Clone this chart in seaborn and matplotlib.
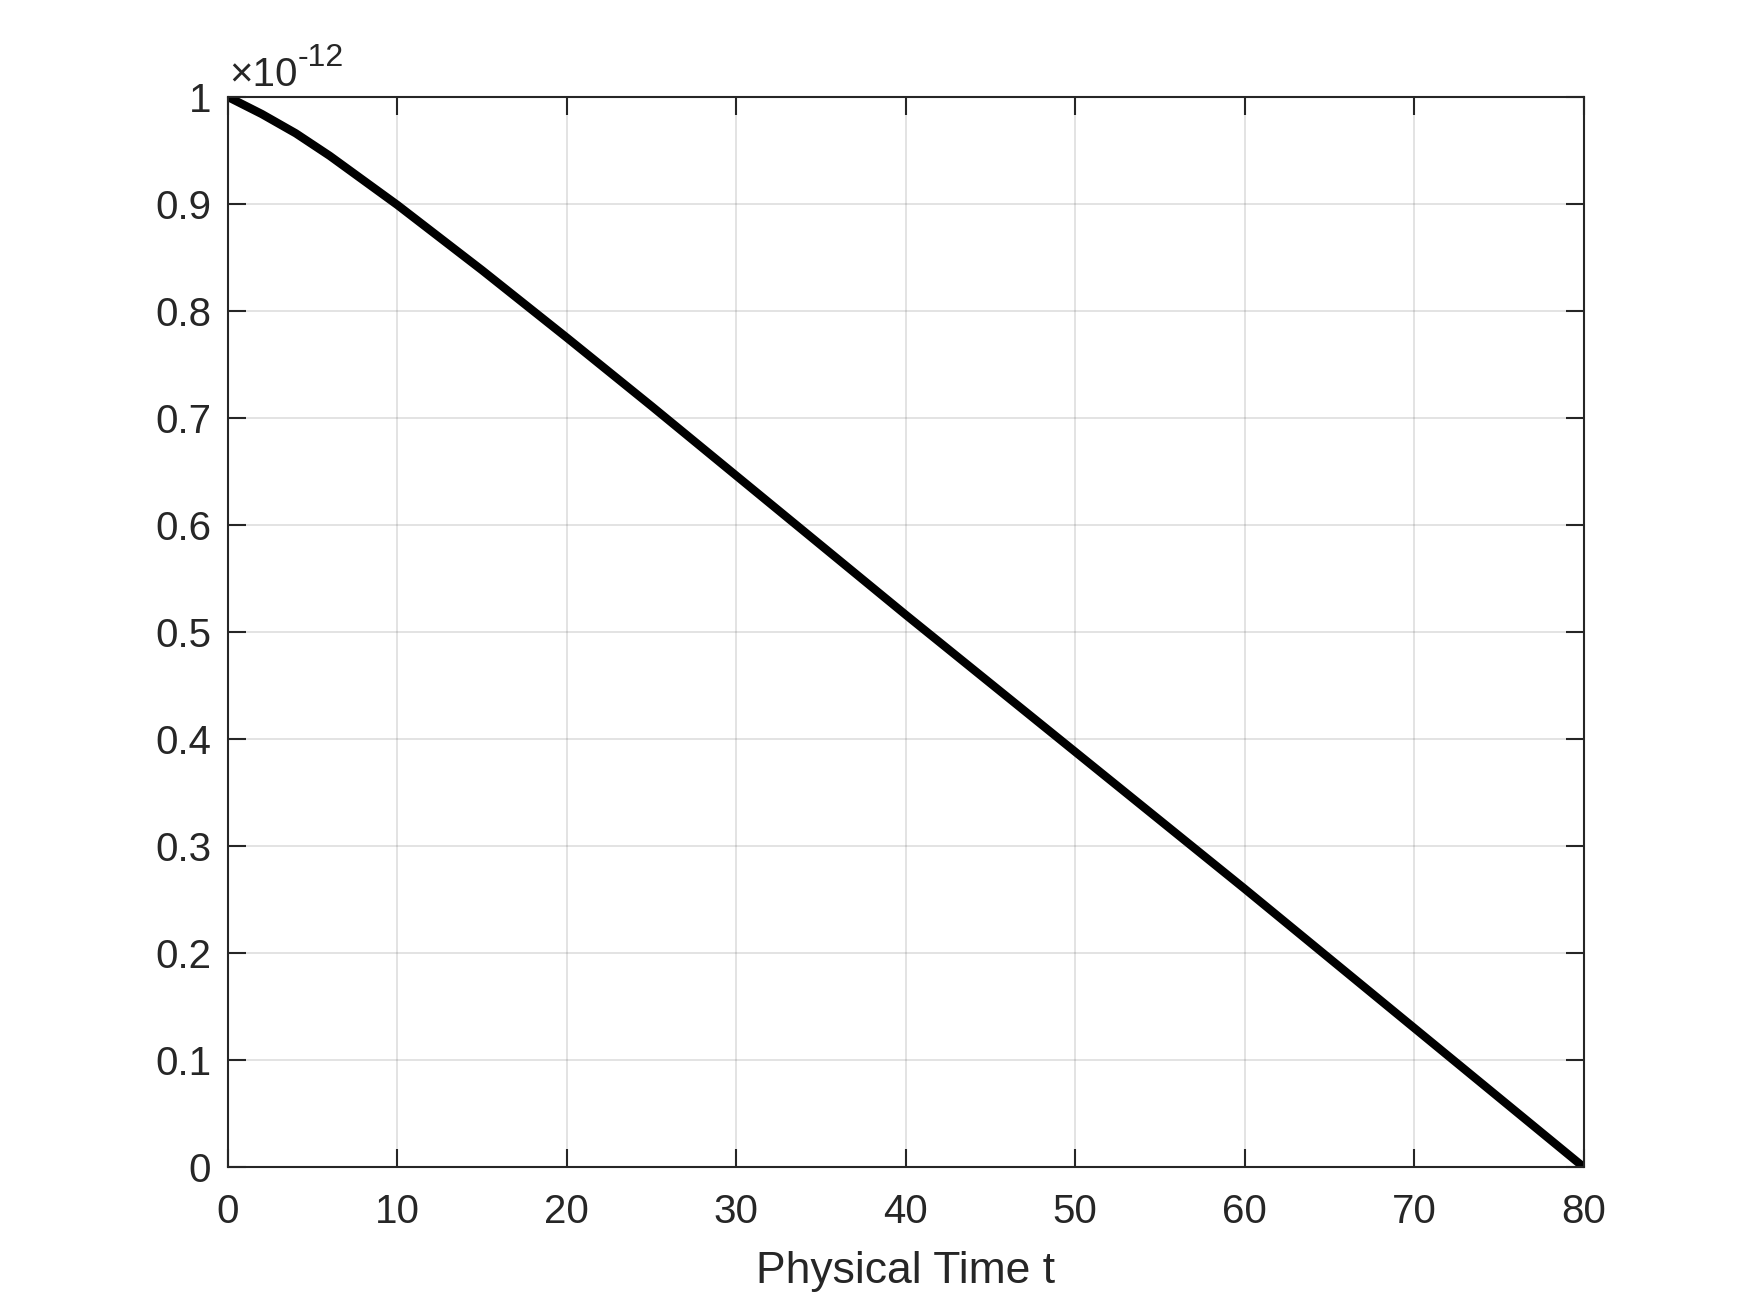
import numpy as np
import pandas as pd
import matplotlib
matplotlib.use("Agg")
import matplotlib.pyplot as plt
import seaborn as sns

# values (y in units of 1e-12)
zeit = [0, 2, 4, 6, 8, 10, 15, 20, 25, 30, 35, 40, 45, 50, 55, 60, 65, 70, 75, 80]
wert = [1.0, 0.984, 0.966, 0.945, 0.922, 0.899, 0.838, 0.775, 0.711, 0.646,
        0.581, 0.516, 0.452, 0.388, 0.324, 0.260, 0.195, 0.130, 0.065, 0.0]
xticks = [0, 10, 20, 30, 40, 50, 60, 70, 80]
yticks = [0, 0.1, 0.2, 0.3, 0.4, 0.5, 0.6, 0.7, 0.8, 0.9, 1]

df = pd.DataFrame({"t": zeit, "y": wert})

sns.set_theme(style="white")
plt.rcParams['font.family'] = ['Liberation Sans', 'DejaVu Sans']
textcol = "#262626"

fig = plt.figure(figsize=(17.5, 12.98), dpi=100)
ax = fig.add_axes([0.1303, 0.1009, 0.7746, 0.8244])

sns.lineplot(data=df, x="t", y="y", ax=ax, color="black", linewidth=6)

ax.set_xlim(0, 80)
ax.set_ylim(0, 1)
ax.set_xticks(xticks)
ax.set_yticks(yticks)
ax.set_yticklabels(["0", "0.1", "0.2", "0.3", "0.4", "0.5", "0.6", "0.7", "0.8", "0.9", "1"])
ax.grid(True, color="#262626", alpha=0.15, linewidth=1.2)
ax.tick_params(direction="in", length=13, width=1.5, top=True, right=True,
               bottom=True, left=True, labelsize=29, colors=textcol)
ax.tick_params(axis="x", pad=19)
ax.tick_params(axis="y", pad=12)
for s in ax.spines.values():
    s.set_color(textcol)
    s.set_linewidth(1.5)
ax.set_xlabel("Physical Time t", fontsize=32, color=textcol, labelpad=14)
ax.set_ylabel("")

# exponent label, MATLAB style
basis = ax.annotate("\u00d710", xy=(0, 1), xycoords="axes fraction", xytext=(1, 2),
                    textcoords="offset points", fontsize=29, color=textcol,
                    ha="left", va="bottom")
ax.annotate("-12", xy=(1, 0.55), xycoords=basis, xytext=(0, 0),
            textcoords="offset points", fontsize=23, color=textcol,
            ha="left", va="bottom")

plt.savefig("out.png", dpi=100)
